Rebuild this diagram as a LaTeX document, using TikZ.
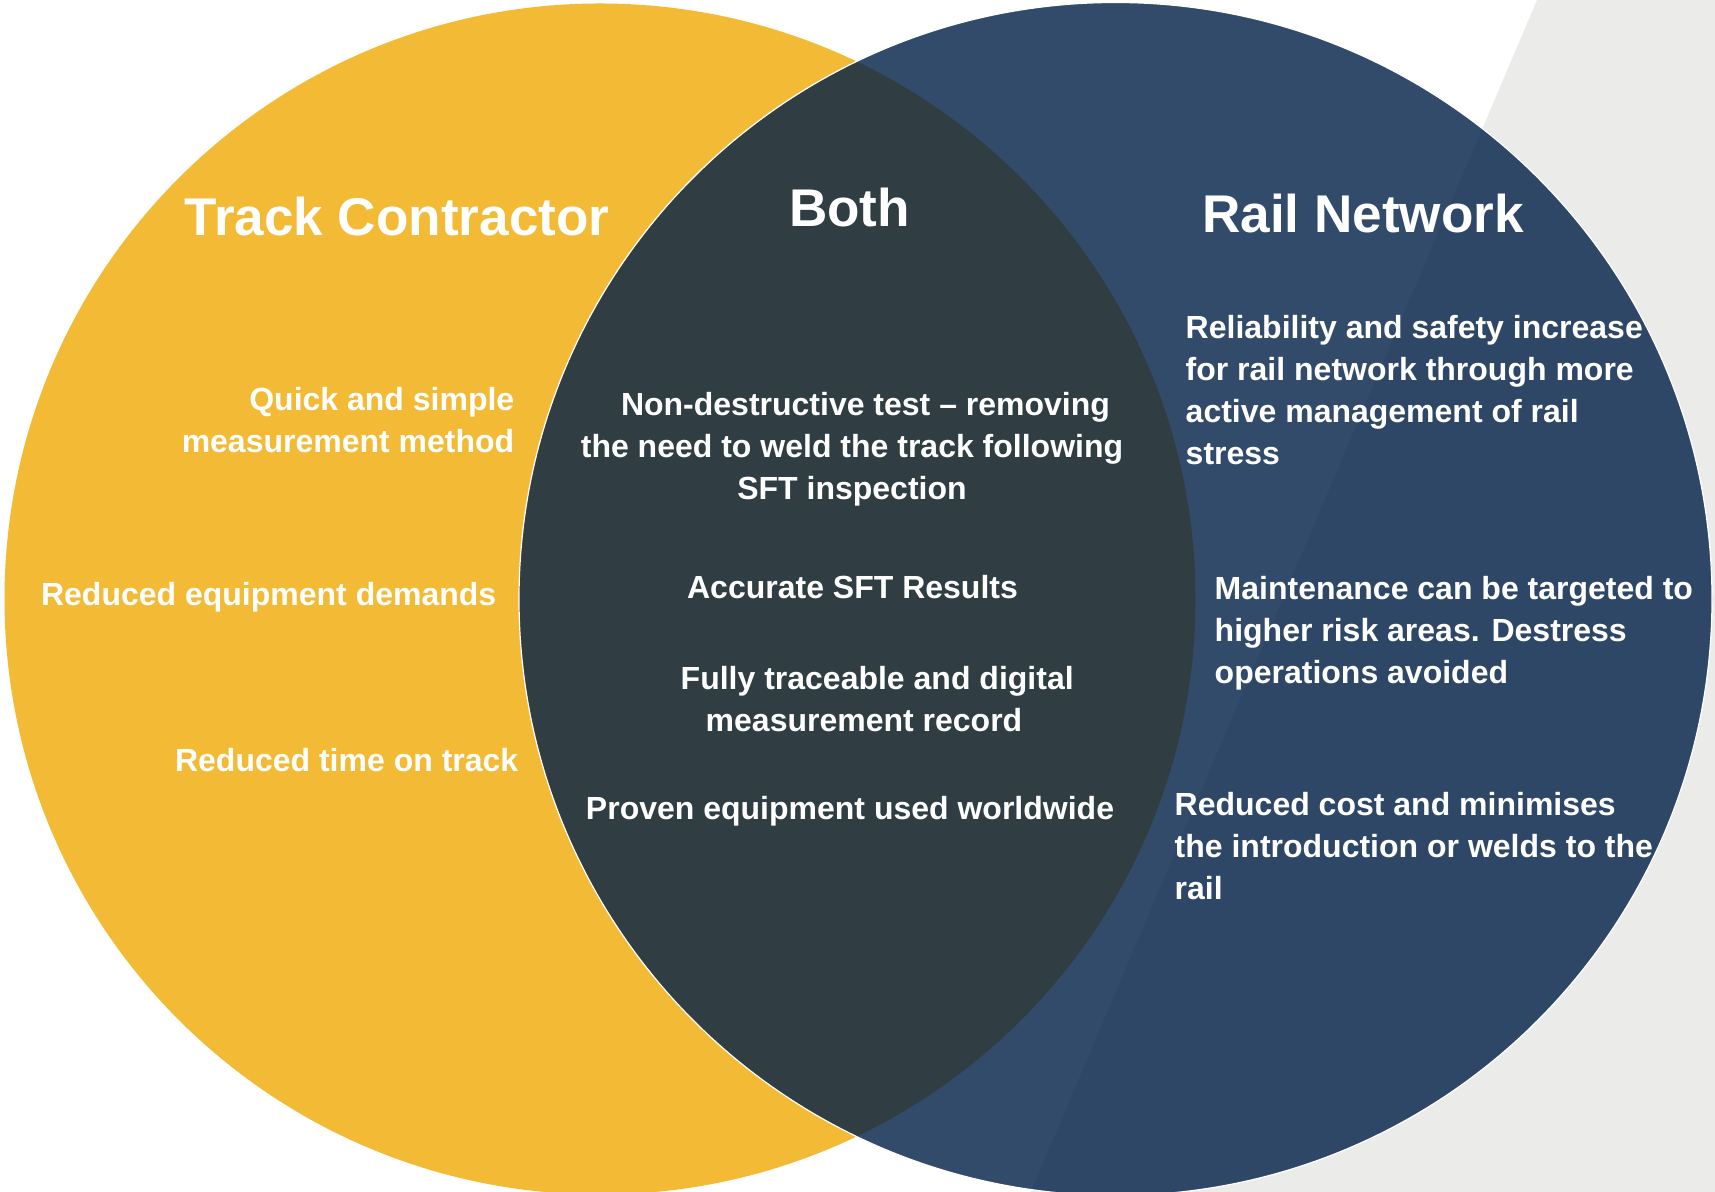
\documentclass[tikz,border=0pt]{standalone}
\usepackage{fontspec}
\setmainfont{Liberation Sans}
\begin{document}
\definecolor{venyellow}{RGB}{243,186,53}
\definecolor{venblue}{RGB}{0,30,70}
\definecolor{vengray}{RGB}{235,235,233}
\begin{tikzpicture}[x=0.01cm,y=-0.01cm,
  title/.style={text=white,font=\fontsize{15.1pt}{18pt}\selectfont\bfseries,inner sep=0pt,anchor=base},
  item/.style={text=white,font=\fontsize{9.1pt}{11.95pt}\selectfont\bfseries,inner sep=0pt},
  itemleft/.style={item,align=right,anchor=base east},
  itemmid/.style={item,align=center,anchor=base},
  itemright/.style={item,align=left,anchor=base west}]
  % canvas
  \useasboundingbox (0,0) rectangle (1715,1192);
  \fill[white] (0,0) rectangle (1715,1192);
  % grey wedge at the right
  \fill[vengray] (1537,0) -- (1715,0) -- (1715,1192) -- (1031,1192) -- cycle;
  % the two sets
  \fill[venyellow] (600,599) circle (595.5);
  \filldraw[fill=venblue,fill opacity=0.8,draw=white,draw opacity=1,line width=0.012cm]
    (1115.5,599) circle (596.5);

  % headings
  \node[title] (tc) at (397,236) {Track Contractor};
  \node[title] (both) at (849.5,227) {Both};
  \node[title] (rn) at (1363,233) {Rail Network};

  % Track Contractor (multi-line nodes sit on the baseline of their last line)
  \node[itemleft] (q1) at (515,453) {Quick and simple\\measurement method};
  \node[itemleft] (q2) at (497,606) {Reduced equipment demands};
  \node[itemleft] (q3) at (519,772) {Reduced time on track};

  % Both
  \node[itemmid] (b1) at (852,500) {\hspace*{0.27cm}Non-destructive test -- removing\\the need to weld the track following\\SFT inspection};
  \node[itemmid] (b2) at (852.5,599) {Accurate SFT Results};
  \node[item,align=left,anchor=base west] (b3) at (680,732) {Fully traceable and digital\\\hspace*{0.25cm}measurement record};
  \node[itemmid] (b4) at (850,820) {Proven equipment used worldwide};

  % Rail Network
  \node[itemright] (r1) at (1185,465) {Reliability and safety increase\\for rail network through more\\active management of rail\\stress};
  \node[itemright] (r2) at (1214,684) {Maintenance can be targeted to\\higher risk areas. Destress\\operations avoided};
  \node[itemright] (r3) at (1174,900) {Reduced cost and minimises\\the introduction or welds to the\\rail};
\end{tikzpicture}
\end{document}
